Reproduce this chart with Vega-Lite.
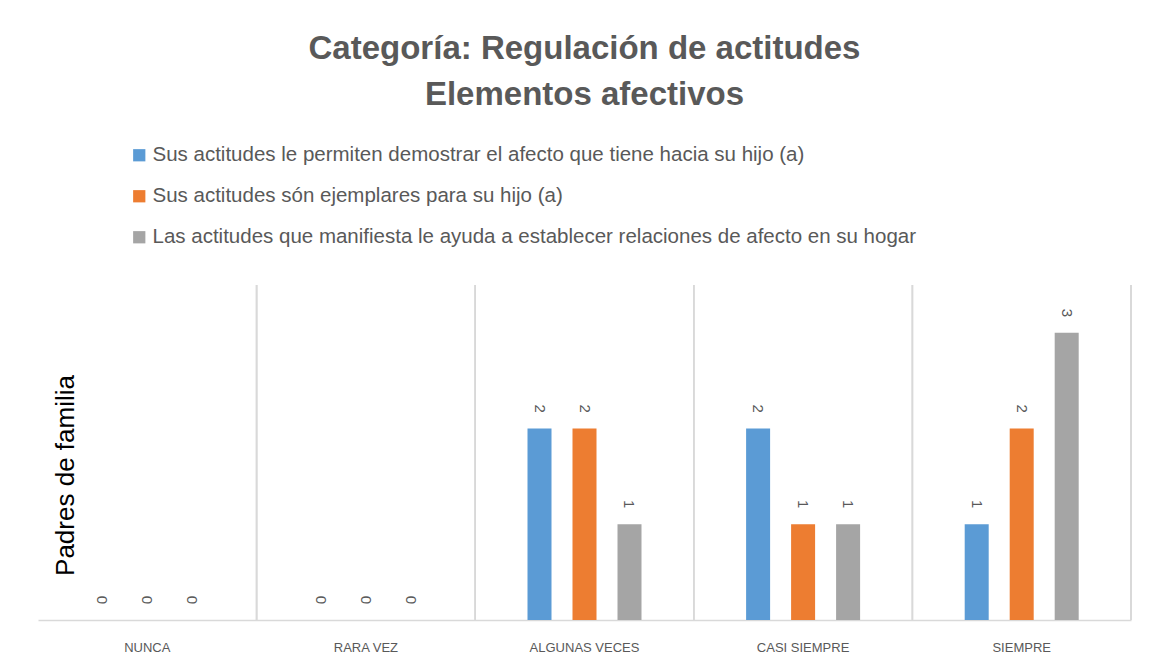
{
  "$schema": "https://vega.github.io/schema/vega-lite/v6.json",
  "width": 1093,
  "height": 335,
  "autosize": {"type": "none"},
  "padding": {"left": 38, "top": 285, "right": 20, "bottom": 51},
  "background": "white",
  "config": {"view": {"stroke": null}, "font": "Liberation Sans"},
  "title": {
    "text": ["Categoría: Regulación de actitudes", "Elementos afectivos"],
    "fontSize": 33,
    "fontWeight": "bold",
    "color": "#595959",
    "anchor": "middle",
    "frame": "group",
    "offset": 33,
    "lineHeight": 46
  },
  "data": {
    "values": [
      {"cat": "NUNCA", "serie": "Sus actitudes le permiten demostrar el afecto que tiene hacia su hijo (a)", "value": 0},
      {"cat": "NUNCA", "serie": "Sus actitudes són ejemplares para su hijo (a)", "value": 0},
      {"cat": "NUNCA", "serie": "Las actitudes que manifiesta le ayuda a establecer relaciones de afecto en su hogar", "value": 0},
      {"cat": "RARA VEZ", "serie": "Sus actitudes le permiten demostrar el afecto que tiene hacia su hijo (a)", "value": 0},
      {"cat": "RARA VEZ", "serie": "Sus actitudes són ejemplares para su hijo (a)", "value": 0},
      {"cat": "RARA VEZ", "serie": "Las actitudes que manifiesta le ayuda a establecer relaciones de afecto en su hogar", "value": 0},
      {"cat": "ALGUNAS VECES", "serie": "Sus actitudes le permiten demostrar el afecto que tiene hacia su hijo (a)", "value": 2},
      {"cat": "ALGUNAS VECES", "serie": "Sus actitudes són ejemplares para su hijo (a)", "value": 2},
      {"cat": "ALGUNAS VECES", "serie": "Las actitudes que manifiesta le ayuda a establecer relaciones de afecto en su hogar", "value": 1},
      {"cat": "CASI SIEMPRE", "serie": "Sus actitudes le permiten demostrar el afecto que tiene hacia su hijo (a)", "value": 2},
      {"cat": "CASI SIEMPRE", "serie": "Sus actitudes són ejemplares para su hijo (a)", "value": 1},
      {"cat": "CASI SIEMPRE", "serie": "Las actitudes que manifiesta le ayuda a establecer relaciones de afecto en su hogar", "value": 1},
      {"cat": "SIEMPRE", "serie": "Sus actitudes le permiten demostrar el afecto que tiene hacia su hijo (a)", "value": 1},
      {"cat": "SIEMPRE", "serie": "Sus actitudes són ejemplares para su hijo (a)", "value": 2},
      {"cat": "SIEMPRE", "serie": "Las actitudes que manifiesta le ayuda a establecer relaciones de afecto en su hogar", "value": 3}
    ]
  },
  "encoding": {
    "x": {
      "field": "cat",
      "type": "nominal",
      "sort": ["NUNCA", "RARA VEZ", "ALGUNAS VECES", "CASI SIEMPRE", "SIEMPRE"],
      "scale": {"paddingInner": 0, "paddingOuter": 0},
      "axis": {
        "title": null,
        "labelAngle": 0,
        "labelFontSize": 13,
        "labelColor": "#595959",
        "labelPadding": 21,
        "ticks": false,
        "domainColor": "#d9d9d9",
        "domainWidth": 1.5,
        "grid": false
      }
    }
  },
  "layer": [
    {
      "mark": {"type": "rule", "color": "#d9d9d9", "strokeWidth": 1.5},
      "encoding": {
        "x": {"field": "cat", "type": "nominal", "bandPosition": 1, "sort": ["NUNCA", "RARA VEZ", "ALGUNAS VECES", "CASI SIEMPRE", "SIEMPRE"]}
      }
    },
    {
      "mark": {"type": "bar", "width": 24},
      "encoding": {
        "xOffset": {
          "field": "serie",
          "type": "nominal",
          "sort": [
            "Sus actitudes le permiten demostrar el afecto que tiene hacia su hijo (a)",
            "Sus actitudes són ejemplares para su hijo (a)",
            "Las actitudes que manifiesta le ayuda a establecer relaciones de afecto en su hogar"
          ],
          "scale": {"paddingInner": 0.142, "paddingOuter": 1}
        },
        "y": {
          "field": "value",
          "type": "quantitative",
          "scale": {"domain": [0, 3.5]},
          "axis": {
            "title": "Padres de familia",
            "titleFontSize": 26,
            "titleFontWeight": "normal",
            "titleColor": "#000000",
            "titleAngle": -90,
            "titleAlign": "center",
            "titleBaseline": "middle",
            "titleX": 27,
            "titleY": 190,
            "labels": false,
            "ticks": false,
            "domain": false,
            "grid": false
          }
        },
        "color": {
          "field": "serie",
          "type": "nominal",
          "sort": [
            "Sus actitudes le permiten demostrar el afecto que tiene hacia su hijo (a)",
            "Sus actitudes són ejemplares para su hijo (a)",
            "Las actitudes que manifiesta le ayuda a establecer relaciones de afecto en su hogar"
          ],
          "scale": {"range": ["#5B9BD5", "#ED7D31", "#A5A5A5"]},
          "legend": {
            "title": null,
            "orient": "none",
            "legendX": 91,
            "legendY": -140,
            "direction": "vertical",
            "symbolType": "square",
            "symbolSize": 150,
            "symbolStrokeWidth": 0,
            "labelFontSize": 20.5,
            "labelColor": "#595959",
            "labelLimit": 1000,
            "labelOffset": 3,
            "rowPadding": 20
          }
        }
      }
    },
    {
      "mark": {"type": "text", "angle": 90, "align": "center", "baseline": "middle", "dx": -20, "fontSize": 15, "color": "#595959"},
      "encoding": {
        "xOffset": {
          "field": "serie",
          "type": "nominal",
          "sort": [
            "Sus actitudes le permiten demostrar el afecto que tiene hacia su hijo (a)",
            "Sus actitudes són ejemplares para su hijo (a)",
            "Las actitudes que manifiesta le ayuda a establecer relaciones de afecto en su hogar"
          ],
          "scale": {"paddingInner": 0.142, "paddingOuter": 1}
        },
        "y": {"field": "value", "type": "quantitative"},
        "text": {"field": "value", "type": "quantitative"}
      }
    }
  ]
}
